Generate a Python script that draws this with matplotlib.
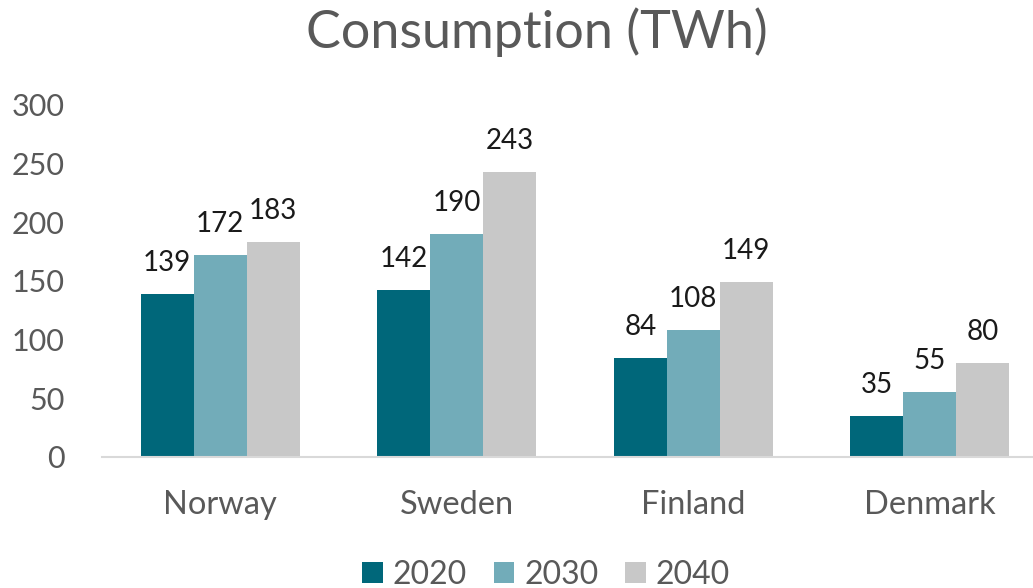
import matplotlib
matplotlib.use("Agg")
import matplotlib.pyplot as plt
import numpy as np

categories = ["Norway", "Sweden", "Finland", "Denmark"]
series_names = ["2020", "2030", "2040"]
values_2020 = [139, 142, 84, 35]
values_2030 = [172, 190, 108, 55]
values_2040 = [183, 243, 149, 80]
y_ticks = [0, 50, 100, 150, 200, 250, 300]

colors = ["#00677a", "#72acb9", "#c8c8c8"]
plt.rcParams['font.family'] = ['Lato', 'DejaVu Sans']

W, H = 1033, 588
fig = plt.figure(figsize=(W / 100, H / 100), dpi=100)
ax = fig.add_axes([102 / W, 131 / H, 946 / W, 352 / H])

x = np.arange(len(categories))
bw = 0.224
all_vals = [values_2020, values_2030, values_2040]
for i, (name, vals, c) in enumerate(zip(series_names, all_vals, colors)):
    pos = x + (i - 1) * bw
    ax.bar(pos, vals, width=bw, color=c, label=name, zorder=2)
    for xp, v in zip(pos, vals):
        ax.annotate(str(v), (xp, v), xytext=(0, 13), textcoords="offset points",
                    ha="center", va="bottom", fontsize=20, color="#1a1a1a")

ax.set_xlim(-0.5, 3.5)
ax.set_ylim(0, 300)
ax.set_yticks(y_ticks)
ax.set_xticks(x)
ax.set_xticklabels(categories)
for s in ["top", "right", "left"]:
    ax.spines[s].set_visible(False)
ax.spines["bottom"].set_color("#d9d9d9")
ax.spines["bottom"].set_linewidth(1.5)
ax.tick_params(axis="y", length=0, labelsize=22, labelcolor="#595959", pad=27)
ax.tick_params(axis="x", length=0, labelsize=23.5, labelcolor="#595959", pad=24)

fig.text(537 / W, 1 - 32 / H, "Consumption (TWh)", ha="center", va="center",
         fontsize=37.5, color="#595959")

handles, labels = ax.get_legend_handles_labels()
fig.legend(handles, labels, loc="center", bbox_to_anchor=(546 / W, 1 - 575 / H),
           ncol=3, frameon=False, fontsize=23, labelcolor="#595959",
           handlelength=0.65, handleheight=0.65, handletextpad=0.3, columnspacing=0.85)

fig.savefig("out.png", dpi=100)
